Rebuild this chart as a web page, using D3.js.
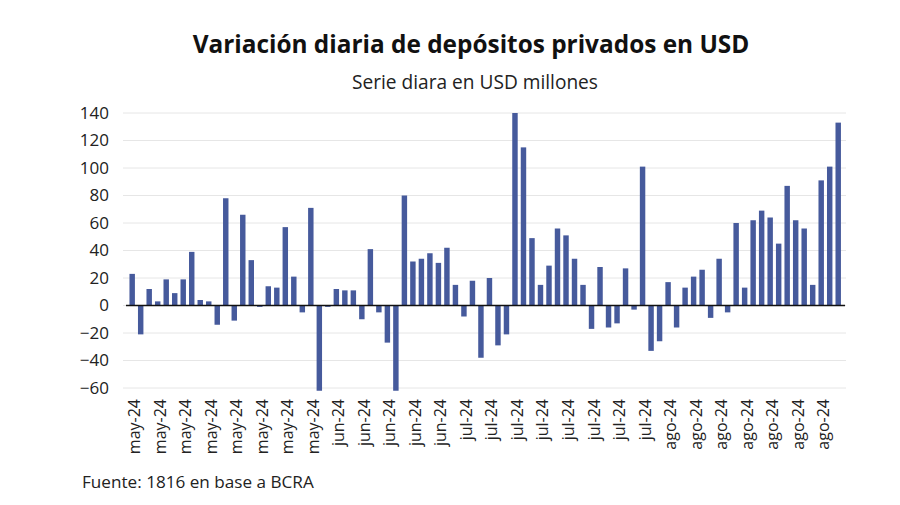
<!DOCTYPE html>
<html><head><meta charset="utf-8">
<script src="https://cdn.jsdelivr.net/npm/d3@7"></script>
<style>body{margin:0;background:#fff}svg{display:block}</style>
</head><body><svg id="c" width="900" height="505"></svg>
<script>
const title = "Variación diaria de depósitos privados en USD";
const subtitle = "Serie diara en USD millones";
const source = "Fuente: 1816 en base a BCRA";

// tick label shown every 3rd bar
const tickLabels = [
  "may-24","may-24","may-24","may-24","may-24","may-24","may-24","may-24",
  "jun-24","jun-24","jun-24","jun-24","jun-24",
  "jul-24","jul-24","jul-24","jul-24","jul-24","jul-24","jul-24","jul-24",
  "ago-24","ago-24","ago-24","ago-24","ago-24","ago-24","ago-24"
];
const yTicks = [-60,-40,-20,0,20,40,60,80,100,120,140];

// daily variation, USD millions
const values = [
  23,-21,12,3,19,9,19,39,4,3,-14,78,-11,66,33,-1,14,13,57,21,-5,71,-62,-1,
  12,11,11,-10,41,-5,-27,-62,80,32,34,38,31,42,15,
  -8,18,-38,20,-29,-21,140,115,49,15,29,56,51,34,15,-17,28,-16,-13,27,-3,101,-33,
  -26,17,-16,13,21,26,-9,34,-5,60,13,62,69,64,45,87,62,56,15,91,101,133
];

const svg = d3.select("#c");
const font = "'Open Sans', sans-serif";

const x = d3.scaleBand().domain(d3.range(values.length)).range([126.4, 844]).padding(0.36);
const y = d3.scaleLinear().domain([-60, 140]).range([388, 113]);

// gridlines
svg.append("g").selectAll("line").data(yTicks).join("line")
  .attr("x1", 123).attr("x2", 846)
  .attr("y1", d => y(d)).attr("y2", d => y(d))
  .attr("stroke", "#e6e6e6").attr("stroke-width", 1);

// bars
svg.append("g").selectAll("rect").data(values).join("rect")
  .attr("x", (d, i) => x(i))
  .attr("width", x.bandwidth())
  .attr("y", d => y(Math.max(0, d)))
  .attr("height", d => Math.abs(y(d) - y(0)))
  .attr("fill", "#465a9c");

// zero line
svg.append("line").attr("x1", 126).attr("x2", 845)
  .attr("y1", y(0)).attr("y2", y(0))
  .attr("stroke", "#111").attr("stroke-width", 1.3);

// y axis labels
const yAxis = d3.axisLeft(y).tickValues(yTicks).tickSize(0).tickPadding(0);
const gy = svg.append("g").attr("transform", "translate(109,0)").call(yAxis);
gy.select(".domain").remove();
gy.selectAll("text").attr("font-family", font).attr("font-size", 17).attr("fill", "#222");

// x axis labels
const xAxis = d3.axisBottom(x).tickValues(d3.range(0, values.length, 3))
  .tickFormat(i => tickLabels[i / 3]).tickSize(0).tickPadding(0);
const gx = svg.append("g").attr("transform", "translate(2,0)").call(xAxis);
gx.select(".domain").remove();
gx.selectAll(".tick text")
  .attr("font-family", font).attr("font-size", 16).attr("fill", "#222")
  .attr("text-anchor", "end")
  .attr("dy", null)
  .attr("dominant-baseline", "central")
  .attr("transform", "translate(0,399) rotate(-90)")
  .attr("y", 0).attr("x", 0);

function fit(sel, w) {
  const n = sel.node();
  const fs = parseFloat(sel.attr("font-size"));
  const cur = n.getComputedTextLength();
  sel.attr("font-size", fs * w / cur);
}

const t = svg.append("text").attr("x", 471).attr("y", 53).attr("text-anchor", "middle")
  .attr("font-family", font).attr("font-weight", 700).attr("font-size", 24)
  .attr("fill", "#111").text(title);
fit(t, 557);

const st = svg.append("text").attr("x", 475).attr("y", 89).attr("text-anchor", "middle")
  .attr("font-family", font).attr("font-size", 17).attr("fill", "#222").text(subtitle);
fit(st, 246);

const so = svg.append("text").attr("x", 82).attr("y", 488)
  .attr("font-family", font).attr("font-size", 16).attr("fill", "#222").text(source);
fit(so, 232);
</script>
</body></html>
